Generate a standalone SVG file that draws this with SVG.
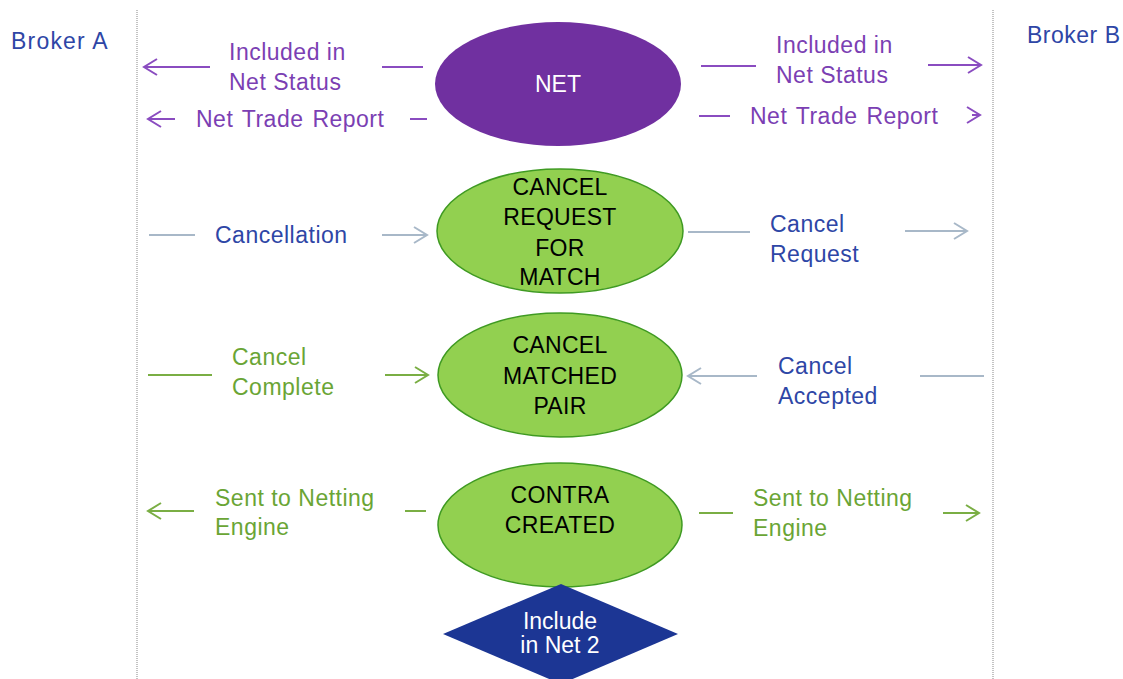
<svg xmlns="http://www.w3.org/2000/svg" width="1123" height="679" viewBox="0 0 1123 679">
<style>
text{font-family:"Liberation Sans",Arial,sans-serif;font-size:23px;letter-spacing:0.5px}
.purple{fill:#7b3fb3}
.blue{fill:#2e46a6}
.green{fill:#6aa535}
.broker{letter-spacing:1.2px}
.node{fill:#000;font-size:23px;letter-spacing:0.3px;text-anchor:middle}
.wt{fill:#fff;text-anchor:middle;letter-spacing:0}
.lp{stroke:#8a4cc0;stroke-width:2;fill:none}
.lg{stroke:#a8b8c8;stroke-width:2;fill:none}
.ln{stroke:#7aae44;stroke-width:2;fill:none}
.gell{fill:#92d050;stroke:#3f9a22;stroke-width:1.5}
.lane{stroke:#b0b0b0;stroke-width:1.5;stroke-dasharray:1 1}
</style>
<defs>
<marker id="ap" markerWidth="16" markerHeight="18" refX="14" refY="9" orient="auto" markerUnits="userSpaceOnUse"><path d="M1,1 L14,9 L1,17" fill="none" stroke="#8a4cc0" stroke-width="2"/></marker>
<marker id="ag" markerWidth="16" markerHeight="18" refX="14" refY="9" orient="auto" markerUnits="userSpaceOnUse"><path d="M1,1 L14,9 L1,17" fill="none" stroke="#a8b8c8" stroke-width="2"/></marker>
<marker id="an" markerWidth="16" markerHeight="18" refX="14" refY="9" orient="auto" markerUnits="userSpaceOnUse"><path d="M1,1 L14,9 L1,17" fill="none" stroke="#7aae44" stroke-width="2"/></marker>
</defs>
<rect width="1123" height="679" fill="#fff"/>
<g id="lanes">
<line class="lane" x1="137" y1="10" x2="137" y2="679"/>
<line class="lane" x1="993" y1="10" x2="993" y2="679"/>
<text class="blue broker" x="11" y="49">Broker A</text>
<text class="blue" x="1027" y="43" letter-spacing="0.3">Broker B</text>
</g>
<g id="connectors">
<line class="lp" x1="210" y1="67" x2="144" y2="67" marker-end="url(#ap)"/>
<line class="lp" x1="382" y1="67" x2="423" y2="67"/>
<text class="purple" x="229" y="60">Included in</text>
<text class="purple" x="229" y="90">Net Status</text>
<line class="lp" x1="175" y1="119" x2="148" y2="119" marker-end="url(#ap)"/>
<line class="lp" x1="410" y1="119" x2="427" y2="119"/>
<text class="purple" x="196" y="127" word-spacing="2">Net Trade Report</text>
<line class="lp" x1="701" y1="66" x2="756" y2="66"/>
<text class="purple" x="776" y="53">Included in</text>
<text class="purple" x="776" y="83">Net Status</text>
<line class="lp" x1="928" y1="65" x2="981" y2="65" marker-end="url(#ap)"/>
<line class="lp" x1="699" y1="116" x2="730" y2="116"/>
<text class="purple" x="750" y="124" word-spacing="2">Net Trade Report</text>
<line class="lp" x1="972" y1="115" x2="980" y2="115" marker-end="url(#ap)"/>
<line class="lg" x1="149" y1="235" x2="195" y2="235"/>
<text class="blue" x="215" y="243">Cancellation</text>
<line class="lg" x1="382" y1="235" x2="427" y2="235" marker-end="url(#ag)"/>
<line class="lg" x1="688" y1="232" x2="750" y2="232"/>
<text class="blue" x="770" y="232">Cancel</text>
<text class="blue" x="770" y="262">Request</text>
<line class="lg" x1="905" y1="231" x2="967" y2="231" marker-end="url(#ag)"/>
<line class="ln" x1="148" y1="375" x2="212" y2="375"/>
<text class="green" x="232" y="365">Cancel</text>
<text class="green" x="232" y="395">Complete</text>
<line class="ln" x1="385" y1="375" x2="428" y2="375" marker-end="url(#an)"/>
<line class="lg" x1="757" y1="376" x2="688" y2="376" marker-end="url(#ag)"/>
<text class="blue" x="778" y="374">Cancel</text>
<text class="blue" x="778" y="404">Accepted</text>
<line class="lg" x1="920" y1="376" x2="984" y2="376"/>
<line class="ln" x1="194" y1="511" x2="148" y2="511" marker-end="url(#an)"/>
<text class="green" x="215" y="506">Sent to Netting</text>
<text class="green" x="215" y="535">Engine</text>
<line class="ln" x1="405" y1="511" x2="426" y2="511"/>
<line class="ln" x1="699" y1="513" x2="733" y2="513"/>
<text class="green" x="753" y="506">Sent to Netting</text>
<text class="green" x="753" y="536">Engine</text>
<line class="ln" x1="943" y1="513" x2="979" y2="513" marker-end="url(#an)"/>
</g>
<g id="net">
<ellipse cx="558" cy="84" rx="123" ry="62" fill="#7030a0"/>
<text class="wt" x="558" y="92" font-size="22">NET</text>
</g>
<g id="cancel-request">
<ellipse class="gell" cx="560" cy="231" rx="123" ry="62"/>
<text class="node" x="560" y="195">CANCEL</text>
<text class="node" x="560" y="225">REQUEST</text>
<text class="node" x="560" y="256">FOR</text>
<text class="node" x="560" y="285">MATCH</text>
</g>
<g id="cancel-matched">
<ellipse class="gell" cx="560" cy="375" rx="122" ry="62"/>
<text class="node" x="560" y="353">CANCEL</text>
<text class="node" x="560" y="384">MATCHED</text>
<text class="node" x="560" y="414">PAIR</text>
</g>
<g id="contra">
<ellipse class="gell" cx="560" cy="525" rx="122" ry="62"/>
<text class="node" x="560" y="503">CONTRA</text>
<text class="node" x="560" y="533">CREATED</text>
</g>
<g id="include-net2">
<polygon points="561,584 678,634 561,684 443,634" fill="#1c3694"/>
<text class="wt" x="560" y="629" font-size="19" letter-spacing="0.8">Include</text>
<text class="wt" x="560" y="653" font-size="19" letter-spacing="0.8">in Net 2</text>
</g>
</svg>
